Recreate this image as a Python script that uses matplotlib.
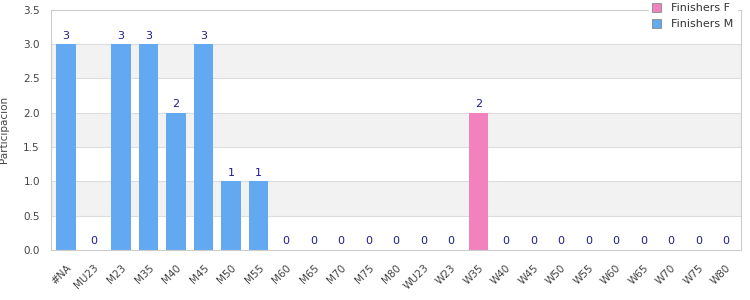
import matplotlib.pyplot as plt
import numpy as np

categories = ["#NA", "MU23", "M23", "M35", "M40", "M45", "M50", "M55", "M60", "M65",
              "M70", "M75", "M80", "WU23", "W23", "W35", "W40", "W45", "W50", "W55",
              "W60", "W65", "W70", "W75", "W80"]
finishers_m = [3, 0, 3, 3, 2, 3, 1, 1, 0, 0, 0, 0, 0, None, None, None, None, None,
               None, None, None, None, None, None, None]
finishers_f = [None] * 13 + [0, 0, 2, 0, 0, 0, 0, 0, 0, 0, 0, 0]

COLOR_M = "#62a9f2"
COLOR_F = "#f282bd"
LABEL_COLOR = "#1c1c8f"

fig = plt.figure(figsize=(7.5, 3.0), dpi=100)
ax = fig.add_axes([0.068, 0.167, 0.92, 0.80])

x = np.arange(len(categories))
# alternating background bands
for lo in np.arange(0.5, 3.5, 1.0):
    ax.axhspan(lo, lo + 0.5, color="#f2f2f2", zorder=0, lw=0)
for y in np.arange(0.5, 3.5, 0.5):
    ax.axhline(y, color="#dddddd", lw=0.8, zorder=0.5)

width = 0.72
for vals, color, name in [(finishers_f, COLOR_F, "Finishers F"),
                          (finishers_m, COLOR_M, "Finishers M")]:
    xs = [i for i, v in enumerate(vals) if v is not None]
    hs = [v for v in vals if v is not None]
    ax.bar(xs, hs, width=width, color=color, label=name, zorder=2)
    for xi, h in zip(xs, hs):
        ax.text(xi, h + 0.05, str(h), ha="center", va="bottom",
                fontsize=8, color=LABEL_COLOR, zorder=3)

ax.set_xlim(-0.55, len(categories) - 0.45)
ax.set_ylim(0, 3.5)
ax.set_yticks(np.arange(0, 3.51, 0.5))
ax.set_yticklabels([f"{v:.1f}" for v in np.arange(0, 3.51, 0.5)])
ax.set_xticks(x)
ax.set_xticklabels(categories, rotation=45, ha="right", rotation_mode="anchor")
ax.tick_params(axis="both", length=0, labelsize=7.5, colors="#444444")
ax.tick_params(axis="x", pad=9)
ax.tick_params(axis="y", pad=8)
ax.set_ylabel("Participación", fontsize=7.5, color="#444444", labelpad=10)
for s in ax.spines.values():
    s.set_color("#cccccc")
    s.set_linewidth(0.8)

leg = ax.legend(loc="upper right", bbox_to_anchor=(0.9935, 1.042), fontsize=8,
                frameon=True, fancybox=False, edgecolor="white", framealpha=1,
                handlelength=0.8, handleheight=0.8, borderpad=0.3, borderaxespad=0,
                labelspacing=0.55, handletextpad=0.9)
for h in leg.legend_handles:
    h.set_edgecolor("#888888")
    h.set_linewidth(0.6)
for t in leg.get_texts():
    t.set_color("#333333")

fig.savefig("out.png", dpi=100)
